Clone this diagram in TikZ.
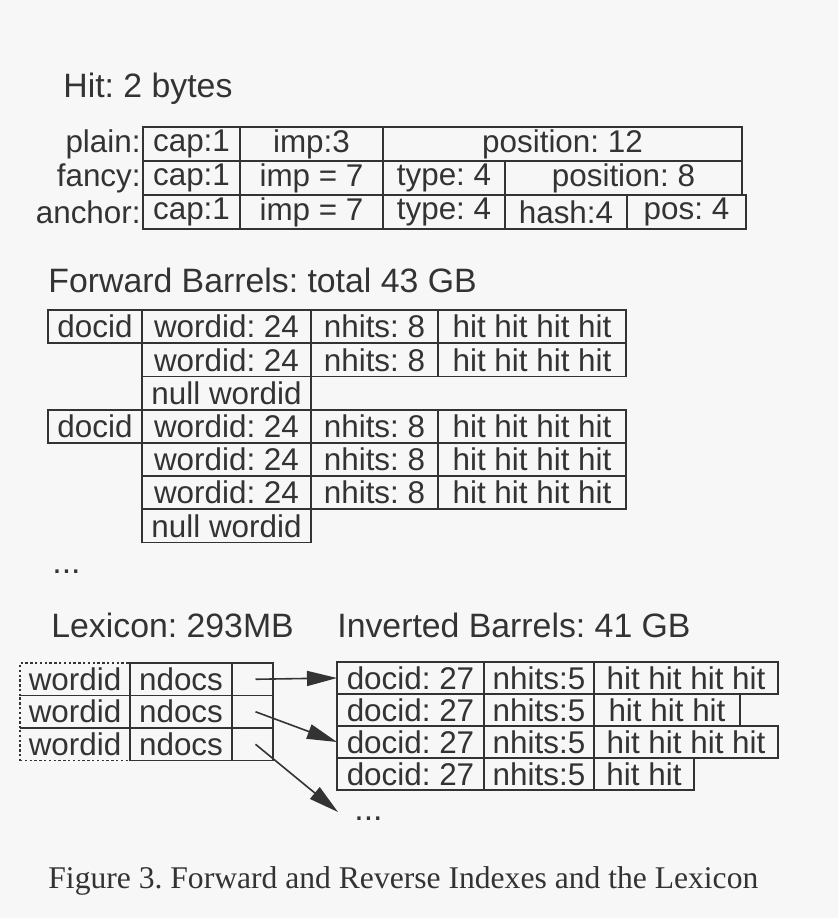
\documentclass[tikz,border=0pt]{standalone}
\usepackage{fontspec}
\setmainfont{Liberation Serif}
\newfontfamily\diagfont{Liberation Sans}
\usepackage{tikz}
\usetikzlibrary{arrows.meta, positioning}
\frenchspacing
\definecolor{paper}{gray}{0.97}
\definecolor{ink}{gray}{0.2}
\tikzstyle{cell} = [rectangle, draw=ink, line width=0.9pt, inner sep=0pt, outer sep=0pt, text=ink, font=\diagfont\fontsize{15.7}{16}\selectfont]
\tikzstyle{hitcell} = [cell, minimum height=17pt]
\tikzstyle{fwdcell} = [cell, minimum height=16.6pt]
\tikzstyle{lexcell} = [cell, minimum height=16.25pt]
\tikzstyle{lexword} = [lexcell, dash pattern=on 1.2pt off 1.2pt]
\tikzstyle{invcell} = [cell, minimum height=16pt]
\tikzstyle{heading} = [anchor=base west, inner sep=0pt, text=ink, font=\diagfont\fontsize{16.9}{18}\selectfont]
\tikzstyle{rowlabel} = [inner sep=0pt, text=ink, font=\diagfont\fontsize{15.7}{16}\selectfont]
\tikzstyle{arrow} = [line width=0.8pt, draw=ink, -{Triangle[length=15pt, width=7.5pt]}]

\begin{document}
\begin{tikzpicture}[x=0.5pt, y=-0.5pt, node distance=0pt]
    \path [use as bounding box, fill=paper] (0,0) rectangle (838,918);

    % hit layouts
    \node (hittitle) [heading] at (63,97) {Hit: 2 bytes};
    \node (p1) [hitcell, minimum width=48.5pt, anchor=north west] at (143,127) {cap:1};
    \node (p2) [hitcell, minimum width=71.5pt, right=of p1] {imp:3};
    \node (p3) [hitcell, minimum width=179.5pt, right=of p2] {position: 12};
    \node (f1) [hitcell, minimum width=48.5pt, below=of p1] {cap:1};
    \node (f2) [hitcell, minimum width=71.5pt, right=of f1] {imp = 7};
    \node (f3) [hitcell, minimum width=61pt, right=of f2] {type: 4};
    \node (f4) [hitcell, minimum width=118.5pt, right=of f3] {position: 8};
    \node (a1) [hitcell, minimum width=48.5pt, below=of f1] {cap:1};
    \node (a2) [hitcell, minimum width=71.5pt, right=of a1] {imp = 7};
    \node (a3) [hitcell, minimum width=61pt, right=of a2] {type: 4};
    \node (a4) [hitcell, minimum width=61pt, right=of a3] {hash:4};
    \node (a5) [hitcell, minimum width=59.5pt, right=of a4] {pos: 4};
    \node (plainlbl) [rowlabel, left=1pt of p1] {plain:};
    \node (fancylbl) [rowlabel, left=1pt of f1] {fancy:};
    \node (anchorlbl) [rowlabel, left=1pt of a1] {anchor:};

    % forward barrels
    \node (fwdtitle) [heading] at (48,292) {Forward Barrels: total 43 GB};
    \node (d1) [fwdcell, minimum width=47pt, anchor=north west] at (48,310) {docid};
    \node (w1) [fwdcell, minimum width=84.5pt, right=of d1] {wordid: 24};
    \node (n1) [fwdcell, minimum width=63.5pt, right=of w1] {nhits: 8};
    \node (h1) [fwdcell, minimum width=94pt, right=of n1] {hit hit hit hit};
    \node (w2) [fwdcell, minimum width=84.5pt, below=of w1] {wordid: 24};
    \node (n2) [fwdcell, minimum width=63.5pt, right=of w2] {nhits: 8};
    \node (h2) [fwdcell, minimum width=94pt, right=of n2] {hit hit hit hit};
    \node (z1) [fwdcell, minimum width=84.5pt, below=of w2] {null wordid};
    \node (w3) [fwdcell, minimum width=84.5pt, below=of z1] {wordid: 24};
    \node (d2) [fwdcell, minimum width=47pt, left=of w3] {docid};
    \node (n3) [fwdcell, minimum width=63.5pt, right=of w3] {nhits: 8};
    \node (h3) [fwdcell, minimum width=94pt, right=of n3] {hit hit hit hit};
    \node (w4) [fwdcell, minimum width=84.5pt, below=of w3] {wordid: 24};
    \node (n4) [fwdcell, minimum width=63.5pt, right=of w4] {nhits: 8};
    \node (h4) [fwdcell, minimum width=94pt, right=of n4] {hit hit hit hit};
    \node (w5) [fwdcell, minimum width=84.5pt, below=of w4] {wordid: 24};
    \node (n5) [fwdcell, minimum width=63.5pt, right=of w5] {nhits: 8};
    \node (h5) [fwdcell, minimum width=94pt, right=of n5] {hit hit hit hit};
    \node (z2) [fwdcell, minimum width=84.5pt, below=of w5] {null wordid};
    \node (fwdmore) [heading] at (52,573) {...};

    % lexicon
    \node (lextitle) [heading] at (51,637) {Lexicon: 293MB};
    \node (lw1) [lexword, minimum width=55pt, anchor=north west] at (20,663) {wordid};
    \node (ln1) [lexcell, minimum width=51pt, right=of lw1] {ndocs};
    \node (lp1) [lexcell, minimum width=20.5pt, right=of ln1] {};
    \node (lw2) [lexword, minimum width=55pt, below=of lw1] {wordid};
    \node (ln2) [lexcell, minimum width=51pt, right=of lw2] {ndocs};
    \node (lp2) [lexcell, minimum width=20.5pt, right=of ln2] {};
    \node (lw3) [lexword, minimum width=55pt, below=of lw2] {wordid};
    \node (ln3) [lexcell, minimum width=51pt, right=of lw3] {ndocs};
    \node (lp3) [lexcell, minimum width=20.5pt, right=of ln3] {};
    \draw [draw=ink, line width=0.9pt] (lw1.south west) -- (lw1.south east);
    \draw [draw=ink, line width=0.9pt] (lw2.south west) -- (lw2.south east);

    % inverted barrels
    \node (invtitle) [heading] at (337,637) {Inverted Barrels: 41 GB};
    \node (i1) [invcell, minimum width=73.5pt, anchor=north west] at (337,662) {docid: 27};
    \node (j1) [invcell, minimum width=55pt, right=of i1] {nhits:5};
    \node (k1) [invcell, minimum width=92pt, right=of j1] {hit hit hit hit};
    \node (i2) [invcell, minimum width=73.5pt, below=of i1] {docid: 27};
    \node (j2) [invcell, minimum width=55pt, right=of i2] {nhits:5};
    \node (k2) [invcell, minimum width=73pt, right=of j2] {hit hit hit};
    \node (i3) [invcell, minimum width=73.5pt, below=of i2] {docid: 27};
    \node (j3) [invcell, minimum width=55pt, right=of i3] {nhits:5};
    \node (k3) [invcell, minimum width=92pt, right=of j3] {hit hit hit hit};
    \node (i4) [invcell, minimum width=73.5pt, below=of i3] {docid: 27};
    \node (j4) [invcell, minimum width=55pt, right=of i4] {nhits:5};
    \node (k4) [invcell, minimum width=50pt, right=of j4] {hit hit};
    \node (invmore) [heading] at (354,820) {...};
    \coordinate (moretip) at (338,812);

    \draw [arrow] ([xshift=1.5pt]lp1.center) -- (i1.west);
    \draw [arrow] ([xshift=1.5pt]lp2.center) -- (i3.west);
    \draw [arrow] ([xshift=1.5pt]lp3.center) -- (moretip);

    \node (caption) [anchor=base west, inner sep=0pt, text=ink, font=\fontsize{15.8}{17}\selectfont] at (48,888) {Figure 3. Forward and Reverse Indexes and the Lexicon};
\end{tikzpicture}
\end{document}
